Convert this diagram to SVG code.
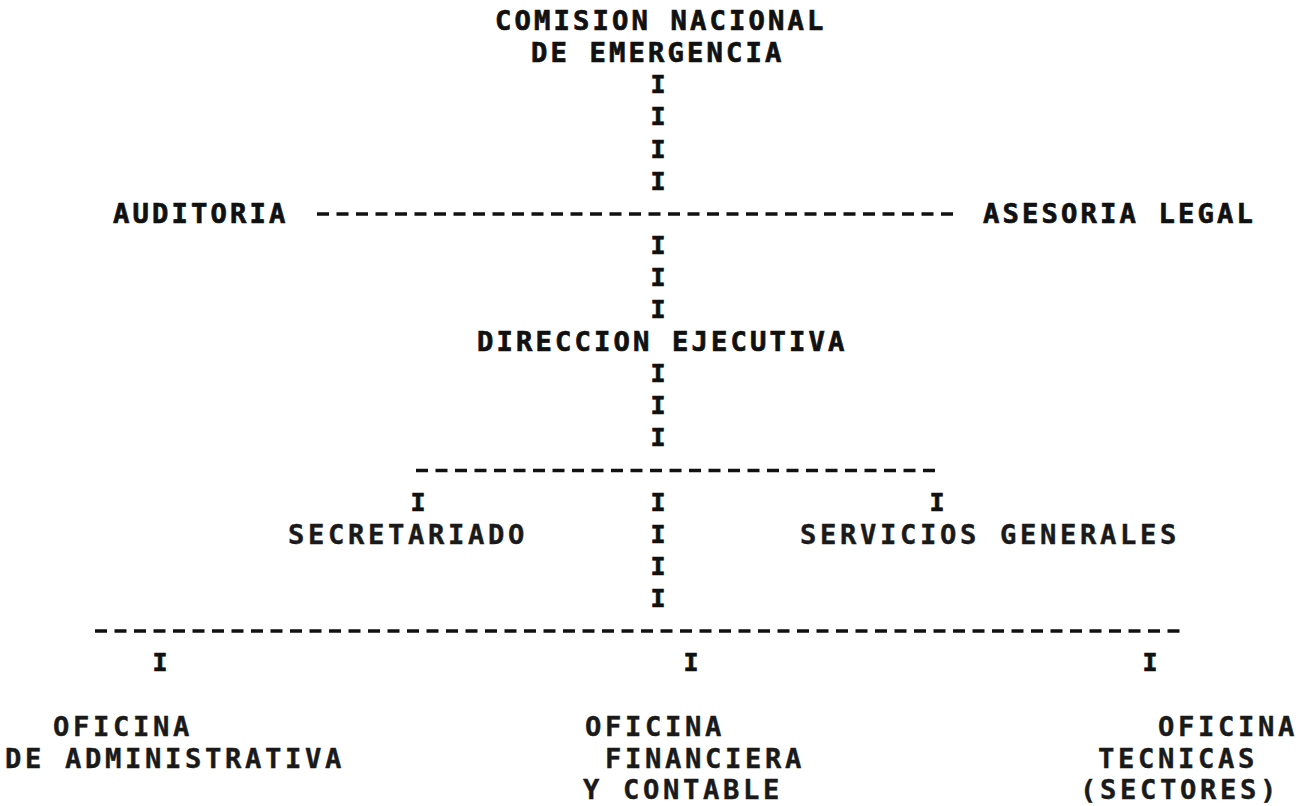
<svg xmlns="http://www.w3.org/2000/svg" width="1309" height="806" viewBox="0 0 1309 806">
<style>
text{font-family:"DejaVu Sans Mono","Liberation Mono",monospace;font-weight:bold;fill:#111;font-size:27.2px;stroke:#111;stroke-width:0.7px}
.t{letter-spacing:3.13px}
.b{letter-spacing:3.63px;fill:#1a1a1a;stroke:#1a1a1a;stroke-width:0.4px}
.i{font-size:25px;text-anchor:middle}
.dash{stroke:#111;stroke-width:3.5;stroke-dasharray:12 7.5;fill:none}
</style>
<rect width="1309" height="806" fill="#fff"/>
<g id="connectors">
<line class="dash" x1="317" y1="214" x2="953" y2="214"/>
<line class="dash" x1="416" y1="470.5" x2="935" y2="470.5"/>
<line class="dash" x1="95" y1="631" x2="1179.5" y2="631"/>
<text class="i" x="658" y="93.3">I</text>
<text class="i" x="658" y="125.4">I</text>
<text class="i" x="658" y="157.5">I</text>
<text class="i" x="658" y="189.6">I</text>
<text class="i" x="658" y="253.8">I</text>
<text class="i" x="658" y="285.9">I</text>
<text class="i" x="658" y="318">I</text>
<text class="i" x="658" y="382.2">I</text>
<text class="i" x="658" y="414.3">I</text>
<text class="i" x="658" y="446.4">I</text>
<text class="i" x="418" y="510.6">I</text>
<text class="i" x="658" y="510.6">I</text>
<text class="i" x="937" y="510.6">I</text>
<text class="i" x="658" y="542.7">I</text>
<text class="i" x="658" y="574.8">I</text>
<text class="i" x="658" y="606.9">I</text>
<text class="i" x="160" y="671.1">I</text>
<text class="i" x="691" y="671.1">I</text>
<text class="i" x="1150" y="671.1">I</text>
</g>
<g id="comision"><text class="t"><tspan x="495" y="30">COMISION NACIONAL</tspan><tspan x="531" y="62.1">DE EMERGENCIA</tspan></text></g>
<g id="auditoria"><text class="t" x="113" y="222.6">AUDITORIA</text></g>
<g id="asesoria"><text class="t" x="983" y="222.6">ASESORIA LEGAL</text></g>
<g id="direccion"><text class="t" x="477" y="351">DIRECCION EJECUTIVA</text></g>
<g id="secretariado"><text class="b" x="288" y="543.6">SECRETARIADO</text></g>
<g id="servicios"><text class="b" x="800" y="543.6">SERVICIOS GENERALES</text></g>
<g id="oficina-admin"><text class="b"><tspan x="53" y="736.2">OFICINA</tspan><tspan x="5" y="768.3">DE ADMINISTRATIVA</tspan></text></g>
<g id="oficina-fin"><text class="b"><tspan x="585" y="736.2">OFICINA</tspan><tspan x="605" y="768.3">FINANCIERA</tspan><tspan x="583" y="799">Y CONTABLE</tspan></text></g>
<g id="oficina-tec"><text class="b"><tspan x="1158" y="736.2">OFICINA</tspan><tspan x="1098" y="768.3">TECNICAS</tspan><tspan x="1080" y="799">(SECTORES)</tspan></text></g>
</svg>
